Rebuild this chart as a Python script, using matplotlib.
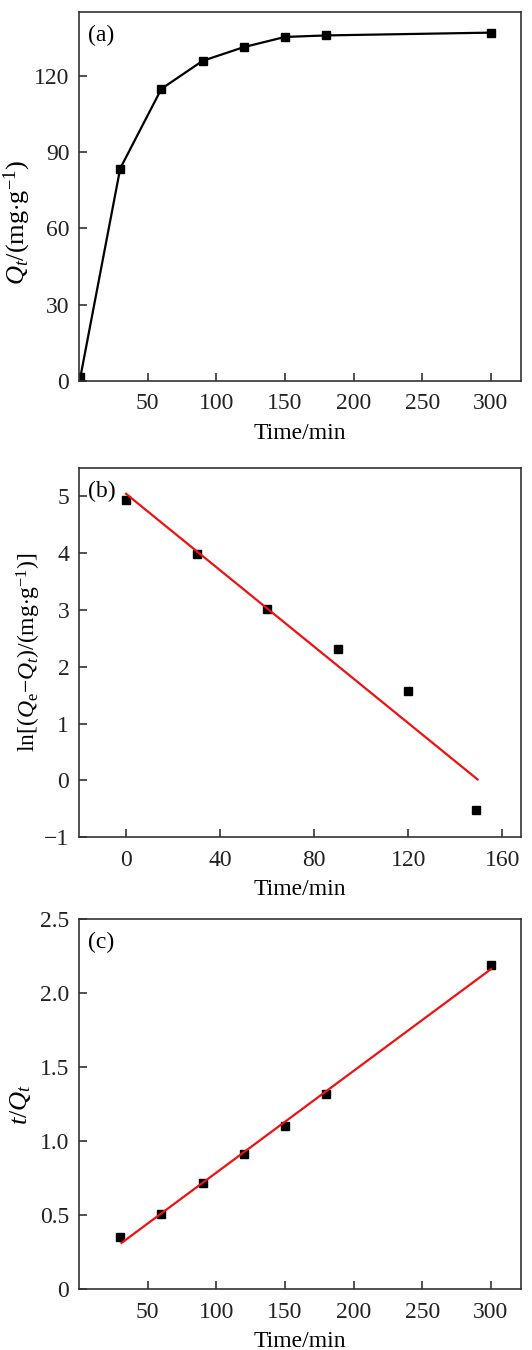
import numpy as np
from matplotlib import pyplot as plt

plt.rcParams['font.family'] = ['Liberation Serif', 'DejaVu Serif']
plt.rcParams['mathtext.fontset'] = 'custom'
plt.rcParams['mathtext.rm'] = 'Liberation Serif'
plt.rcParams['mathtext.it'] = 'Liberation Serif:italic'
plt.rcParams['font.size'] = 17

# (a) adsorption kinetics
t_a = [1, 30, 60, 90, 120, 150, 180, 300]
q_a = [1.5, 83.5, 114.8, 125.8, 131.2, 135.2, 135.8, 136.9]

# (b) pseudo-first-order
t_b = [0, 30, 60, 90, 120, 149]
ln_b = [4.93, 3.98, 3.02, 2.31, 1.57, -0.52]
fit_b = [5.04, -0.0336]   # intercept, slope
fit_b_x = [0, 149.5]

# (c) pseudo-second-order
t_c = [30, 60, 90, 120, 150, 180, 300]
tq_c = [0.35, 0.51, 0.715, 0.91, 1.105, 1.32, 2.19]
fit_c = [0.100, 0.00687]
fit_c_x = [31, 300]

fig = plt.figure(figsize=(5.32, 13.5), dpi=100)
L, W = 0.1485, 0.831
pos = [(L, 0.7178, W, 0.2733), (L, 0.3798, W, 0.2738), (L, 0.045, W, 0.2743)]


def style(ax):
    for s in ax.spines.values():
        s.set_color('#333333')
        s.set_linewidth(1.2)
    ax.tick_params(direction='in', length=6, width=1.1, top=False, right=False,
                   labelsize=17, colors='#222222')
    ax.tick_params(axis='x', pad=9)
    ax.tick_params(axis='y', pad=7)


ax = fig.add_axes(pos[0])
ax.plot(t_a, q_a, 'k-', marker='s', ms=6, lw=1.6)
ax.set_xlim(0, 322)
ax.set_ylim(0, 145)
ax.set_xticks([50, 100, 150, 200, 250, 300])
ax.set_yticks([0, 30, 60, 90, 120])
ax.set_xlabel('Time/min', labelpad=6)
ax.set_ylabel(r'$Q_t$/(mg$\cdot$g$^{-1}$)', fontsize=19)
ax.yaxis.set_label_coords(-0.104, 0.43)
ax.text(0.02, 0.965, '(a)', transform=ax.transAxes, va='top', ha='left', fontsize=17)
style(ax)

ax = fig.add_axes(pos[1])
ax.plot(t_b, ln_b, 'ks', ms=6)
xb = np.array(fit_b_x)
ax.plot(xb, fit_b[0] + fit_b[1] * xb, color='#ee1111', lw=1.6)
ax.set_xlim(-20, 168)
ax.set_ylim(-1, 5.5)
ax.set_xticks([0, 40, 80, 120, 160])
ax.set_yticks([-1, 0, 1, 2, 3, 4, 5])
ax.set_yticklabels(['\u22121', '0', '1', '2', '3', '4', '5'])
ax.set_xlabel('Time/min', labelpad=6)
ax.set_ylabel(r'ln[($Q_{\mathrm{e}}$' + '\u2212' + r'$Q_t$)/(mg$\cdot$g$^{-1}$)]', fontsize=17)
ax.yaxis.set_label_coords(-0.081, 0.5)
ax.text(0.02, 0.965, '(b)', transform=ax.transAxes, va='top', ha='left', fontsize=17)
style(ax)

ax = fig.add_axes(pos[2])
ax.plot(t_c, tq_c, 'ks', ms=6)
xc = np.array(fit_c_x)
ax.plot(xc, fit_c[0] + fit_c[1] * xc, color='#ee1111', lw=1.6)
ax.set_xlim(0, 322)
ax.set_ylim(0, 2.5)
ax.set_xticks([50, 100, 150, 200, 250, 300])
ax.set_yticks([0, 0.5, 1.0, 1.5, 2.0, 2.5])
ax.set_yticklabels(['0', '0.5', '1.0', '1.5', '2.0', '2.5'])
ax.set_xlabel('Time/min', labelpad=6)
ax.set_ylabel(r'$t$/$Q_t$', fontsize=19)
ax.yaxis.set_label_coords(-0.104, 0.5)
ax.text(0.02, 0.965, '(c)', transform=ax.transAxes, va='top', ha='left', fontsize=17)
style(ax)

plt.savefig('out.png', dpi=100)
